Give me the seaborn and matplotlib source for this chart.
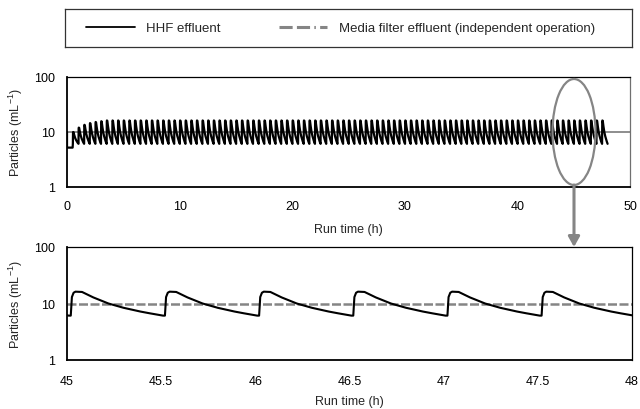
import numpy as np
import pandas as pd
import matplotlib
matplotlib.use("Agg")
import matplotlib.pyplot as plt
import seaborn as sns
from matplotlib.patches import Ellipse
from matplotlib.lines import Line2D
from matplotlib.ticker import MultipleLocator, LogLocator, NullFormatter, FixedLocator, FixedFormatter

# ---------------- data ----------------
# one filtration cycle of the HHF effluent (offset from cycle start, h)
cycle_offset_h = [0.0, 0.006, 0.015, 0.025, 0.06, 0.12, 0.20, 0.28, 0.37, 0.42, 0.49]
cycle_particles = [6.1, 13.0, 15.5, 16.2, 16.0, 12.8, 10.0, 8.4, 7.2, 6.7, 6.1]
cycle_period_h = 0.5
first_cycle_start_h = 0.52
n_cycles = 95
# start-up: first seconds of operation and smaller peaks of the first cycles
startup_time_h = [0.0, 0.0, 0.5]
startup_particles = [10.0, 5.2, 5.2]
startup_peaks = [10.0, 12.0, 13.5, 14.5, 15.2, 15.7]
# media filter effluent (independent operation)
media_time_h = [0.0, 50.0]
media_particles = [10.0, 10.0]

series_labels = ["HHF effluent", "Media filter effluent (independent operation)"]
y_ticks = [1, 10, 100]
y_ticklabels = ["1", "10", "100"]

# ---------------- build the HHF series ----------------
trough = cycle_particles[0]
peak_full = max(cycle_particles)
t_all = list(startup_time_h)
v_all = list(startup_particles)
for k in range(n_cycles):
    t0 = first_cycle_start_h + k * cycle_period_h
    p = startup_peaks[k] if k < len(startup_peaks) else peak_full
    f = (np.log(p) - np.log(trough)) / (np.log(peak_full) - np.log(trough))
    for off, val in zip(cycle_offset_h, cycle_particles):
        t_all.append(t0 + off)
        v_all.append(float(np.exp(np.log(trough) + f * (np.log(val) - np.log(trough)))))
hhf = pd.DataFrame({"time": t_all, "particles": v_all})
media = pd.DataFrame({"time": media_time_h, "particles": media_particles})

# ---------------- style ----------------
sns.set_theme(style="white")
plt.rcParams["font.family"] = ["Liberation Sans", "DejaVu Sans"]
plt.rcParams["mathtext.default"] = "regular"
FS = 9
GRAY = "#858585"

fig = plt.figure(figsize=(6.4, 4.1), dpi=100)
W, H = 640, 410


def axes_px(left, top, right, bottom):
    return [left / W, 1 - bottom / H, (right - left) / W, (bottom - top) / H]


ax_top = fig.add_axes(axes_px(67, 78, 630, 188))
ax_bot = fig.add_axes(axes_px(67, 248, 632, 361))
ax_leg = fig.add_axes(axes_px(65, 10, 632, 48))

# top panel
sns.lineplot(data=media, x="time", y="particles", ax=ax_top, color=GRAY, lw=1.3,
             sort=False, estimator=None)
sns.lineplot(data=hhf, x="time", y="particles", ax=ax_top, color="black", lw=1.6,
             sort=False, estimator=None)
ax_top.set_xlim(0, 50)
ax_top.xaxis.set_major_locator(MultipleLocator(10))
ax_top.xaxis.set_minor_locator(MultipleLocator(2))

# bottom panel
hhf_zoom = hhf[(hhf["time"] > 44.8) & (hhf["time"] < 48.2)]
media_zoom = pd.DataFrame({"time": [45.0, 48.0], "particles": [media_particles[0], media_particles[1]]})
sns.lineplot(data=media_zoom, x="time", y="particles", ax=ax_bot, color=GRAY, lw=1.8,
             sort=False, estimator=None, dashes=False)
ax_bot.lines[-1].set_dashes((3.6, 1.0))
sns.lineplot(data=hhf_zoom, x="time", y="particles", ax=ax_bot, color="black", lw=1.5,
             sort=False, estimator=None)
ax_bot.set_xlim(45, 48)
ax_bot.xaxis.set_major_locator(MultipleLocator(0.5))
ax_bot.xaxis.set_minor_locator(MultipleLocator(0.1))
ax_bot.xaxis.set_major_formatter(matplotlib.ticker.FuncFormatter(lambda v, p: f"{v:g}"))

for ax, pad_x in ((ax_top, 9.5), (ax_bot, 11)):
    ax.set_yscale("log")
    ax.set_ylim(1, 100)
    ax.yaxis.set_major_locator(FixedLocator(y_ticks))
    ax.yaxis.set_major_formatter(FixedFormatter(y_ticklabels))
    ax.yaxis.set_minor_locator(LogLocator(base=10, subs=np.arange(2, 10)))
    ax.yaxis.set_minor_formatter(NullFormatter())
    ax.tick_params(axis="both", which="both", direction="in", top=False, right=False,
                   colors="black", labelsize=FS, width=0.9)
    ax.tick_params(axis="both", which="major", length=4)
    ax.tick_params(axis="both", which="minor", length=2.5)
    ax.tick_params(axis="x", which="major", pad=pad_x)
    ax.tick_params(axis="y", which="major", pad=8.5)
    ax.set_ylabel("Particles (mL$^{-1}$)", fontsize=FS)
    ax.set_xlabel("Run time (h)", fontsize=FS)
    for s in ("left", "bottom"):
        ax.spines[s].set_color("black")
        ax.spines[s].set_linewidth(1.3)
    ax.spines["top"].set_color("black")
    ax.spines["top"].set_linewidth(0.9)
    ax.spines["right"].set_linewidth(0.9)
    ax.grid(False)
    ax.set_facecolor("white")

ax_top.spines["right"].set_color("#707070")
ax_bot.spines["right"].set_color("black")
ax_top.yaxis.set_label_coords((25 - 67) / 563, 0.5)
ax_bot.yaxis.set_label_coords((25 - 67) / 565, 0.5)
ax_top.xaxis.set_label_coords(0.5, (188 - 224) / 110)
ax_bot.xaxis.set_label_coords(0.5, (361 - 396) / 113)

# ellipse + arrow highlighting the zoomed region
ell = Ellipse(((574 - 67) / 563, 0.5), 43 / 563, 106 / 110, transform=ax_top.transAxes,
              fill=False, ec=GRAY, lw=1.6, clip_on=False, zorder=5)
ax_top.add_patch(ell)
ax_bot.annotate("", xy=((574 - 67) / 565, 1.0), xycoords=ax_bot.transAxes,
                xytext=((574 - 67) / 563, 0.5 - 53 / 110), textcoords=ax_top.transAxes,
                arrowprops=dict(arrowstyle="-|>,head_length=0.5,head_width=0.28",
                                color=GRAY, lw=2.2, shrinkA=0, shrinkB=0),
                annotation_clip=False)

# legend box
ax_leg.set_xticks([])
ax_leg.set_yticks([])
ax_leg.set_facecolor("white")
for s in ax_leg.spines.values():
    s.set_color("#333333")
    s.set_linewidth(0.9)
h1 = Line2D([], [], color="black", lw=1.3)
h2 = Line2D([], [], color=GRAY, lw=2.2, dashes=(4.3, 1.4, 4.3, 1.4, 0.5, 1.4))
ax_leg.legend([h1, h2], series_labels, loc="center left", bbox_to_anchor=(21 / 567, 0.5),
              frameon=False, borderaxespad=0, borderpad=0, ncol=2, handlelength=3.7,
              handletextpad=0.85, columnspacing=4.4, fontsize=9.5)

fig.savefig("out.png", dpi=100)
